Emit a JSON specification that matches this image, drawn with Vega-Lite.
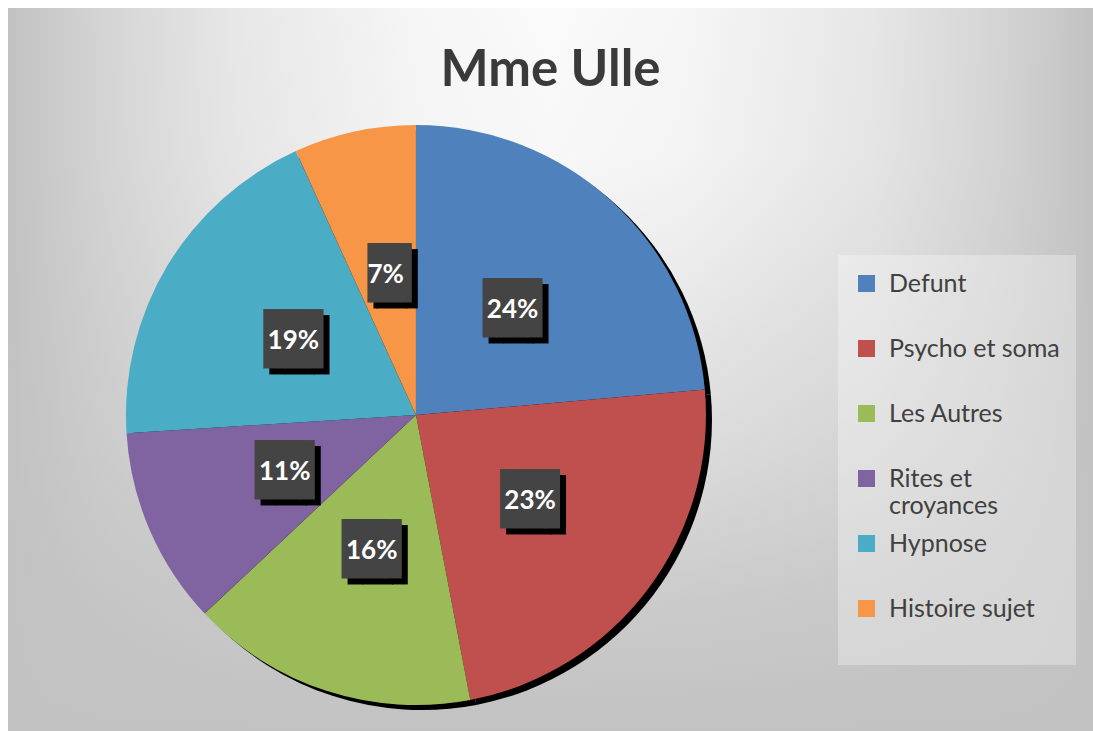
{
  "$schema": "https://vega.github.io/schema/vega-lite/v6.json",
  "width": 1093,
  "height": 731,
  "autosize": {"type": "fit", "contains": "padding"},
  "padding": {"left": 8, "top": 8, "right": 0, "bottom": 0},
  "background": "#ffffff",
  "config": {
    "view": {"stroke": null},
    "font": "Lato"
  },
  "title": {
    "text": "Mme Ulle",
    "font": "Lato",
    "fontSize": 51,
    "fontWeight": "bold",
    "color": "#3a3a3a",
    "anchor": "middle",
    "baseline": "alphabetic",
    "offset": -129
  },
  "data": {
    "values": [
      {"rank": 1, "cat": "Defunt", "share": 0.236},
      {"rank": 2, "cat": "Psycho et soma", "share": 0.234},
      {"rank": 3, "cat": "Les Autres", "share": 0.160},
      {"rank": 4, "cat": "Rites et croyances", "share": 0.110},
      {"rank": 5, "cat": "Hypnose", "share": 0.192},
      {"rank": 6, "cat": "Histoire sujet", "share": 0.068}
    ]
  },
  "layer": [
    {
      "transform": [{"filter": "datum.rank == 1"}],
      "mark": {
        "type": "rect",
        "color": {
          "gradient": "linear", "x1": 0, "y1": 0, "x2": 1, "y2": 0,
          "stops": [
            {"offset": 0, "color": "#c2c2c2"},
            {"offset": 0.086, "color": "#d4d4d4"},
            {"offset": 0.2, "color": "#e6e6e6"},
            {"offset": 0.38, "color": "#f6f6f6"},
            {"offset": 0.5, "color": "#fafafa"},
            {"offset": 0.62, "color": "#f6f6f6"},
            {"offset": 0.8, "color": "#e6e6e6"},
            {"offset": 0.914, "color": "#d4d4d4"},
            {"offset": 1, "color": "#c2c2c2"}
          ]
        }
      },
      "encoding": {}
    },
    {
      "transform": [{"filter": "datum.rank == 1"}],
      "mark": {
        "type": "rect",
        "color": {
          "gradient": "linear", "x1": 0, "y1": 0, "x2": 0, "y2": 1,
          "stops": [
            {"offset": 0, "color": "rgba(194,194,194,0)"},
            {"offset": 0.2, "color": "rgba(194,194,194,0.04)"},
            {"offset": 0.33, "color": "rgba(194,194,194,0.17)"},
            {"offset": 0.61, "color": "rgba(194,194,194,0.5)"},
            {"offset": 0.82, "color": "rgba(194,194,194,0.83)"},
            {"offset": 1, "color": "rgba(194,194,194,1)"}
          ]
        }
      },
      "encoding": {}
    },
    {
      "mark": {"type": "arc", "color": "#000000", "outerRadius": 290, "x": {"expr": "width*0.376+6"}, "y": {"expr": "height*0.563+5"}},
      "encoding": {
        "theta": {"field": "share", "type": "quantitative", "stack": true},
        "order": {"field": "rank", "type": "quantitative"}
      }
    },
    {
      "mark": {"type": "arc", "outerRadius": 290, "x": {"expr": "width*0.376"}, "y": {"expr": "height*0.563"}},
      "encoding": {
        "theta": {"field": "share", "type": "quantitative", "stack": true},
        "order": {"field": "rank", "type": "quantitative"},
        "color": {
          "field": "cat",
          "type": "nominal",
          "scale": {
            "domain": ["Defunt", "Psycho et soma", "Les Autres", "Rites et croyances", "Hypnose", "Histoire sujet"],
            "range": ["#4F81BD", "#C0504D", "#9BBB59", "#8064A2", "#4BACC6", "#F79646"]
          },
          "legend": {
            "title": null,
            "orient": "none",
            "legendX": 830,
            "legendY": 247,
            "padding": 16,
            "fillColor": "rgba(255,255,255,0.3)",
            "strokeColor": null,
            "symbolType": "square",
            "symbolSize": 289,
            "symbolStrokeWidth": 0,
            "symbolOpacity": 1,
            "labelFont": "Lato",
            "labelFontSize": 25,
            "labelColor": "#404040",
            "labelOffset": 10,
            "labelLimit": 400,
            "labelBaseline": "alphabetic",
            "rowPadding": 12,
            "labelExpr": "datum.label == 'Rites et croyances' ? ['Rites et', 'croyances'] : [datum.label, ' ']",
            "encode": {"labels": {"update": {"dy": {"value": 8}}}}
          }
        }
      }
    },
    {
      "mark": {"type": "text", "radius": 143, "x": {"expr": "width*0.376"}, "y": {"expr": "height*0.563"}, "font": "DejaVu Sans Mono", "fontSize": 50, "color": "#000000", "dx": 6, "dy": 6, "baseline": "middle"},
      "encoding": {
        "theta": {"field": "share", "type": "quantitative", "stack": true},
        "order": {"field": "rank", "type": "quantitative"},
        "text": {"condition": {"test": "datum.share < 0.1", "value": "▕█▍"}, "value": "▐█▌"}
      }
    },
    {
      "mark": {"type": "text", "radius": 143, "x": {"expr": "width*0.376"}, "y": {"expr": "height*0.563"}, "font": "DejaVu Sans Mono", "fontSize": 50, "color": "#444444", "baseline": "middle"},
      "encoding": {
        "theta": {"field": "share", "type": "quantitative", "stack": true},
        "order": {"field": "rank", "type": "quantitative"},
        "text": {"condition": {"test": "datum.share < 0.1", "value": "▕█▍"}, "value": "▐█▌"}
      }
    },
    {
      "mark": {"type": "text", "radius": 143, "x": {"expr": "width*0.376"}, "y": {"expr": "height*0.563"}, "font": "Lato", "fontSize": 26, "fontWeight": "bold", "color": "#ffffff", "baseline": "middle"},
      "encoding": {
        "theta": {"field": "share", "type": "quantitative", "stack": true},
        "order": {"field": "rank", "type": "quantitative"},
        "text": {"field": "share", "type": "quantitative", "format": ".0%"}
      }
    }
  ]
}
